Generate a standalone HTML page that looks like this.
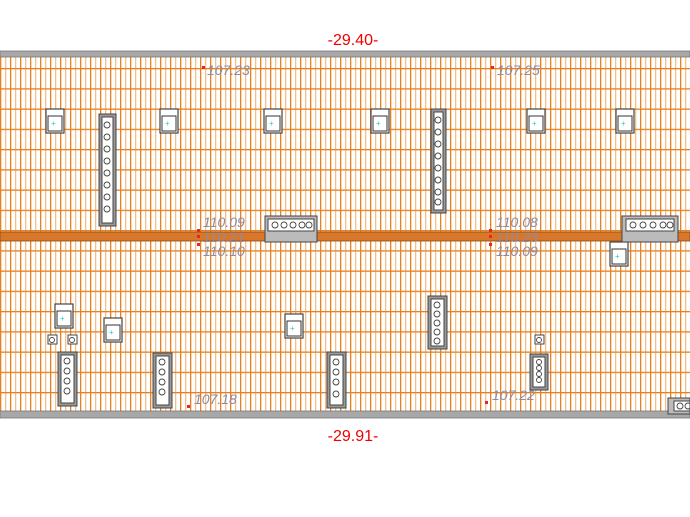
<!DOCTYPE html>
<html><head><meta charset="utf-8"><style>
html,body{margin:0;padding:0;background:#fff;width:690px;height:517px;overflow:hidden}
svg{display:block}
text{font-family:"Liberation Sans",sans-serif}
.el{fill:#8c8ca8;font-size:14px;font-style:italic}
</style></head><body>
<svg width="690" height="517" viewBox="0 0 690 517" xmlns="http://www.w3.org/2000/svg">
<defs>
<pattern id="v" x="0" y="0" width="10" height="10" patternUnits="userSpaceOnUse">
<rect x="0" y="0" width="1.3" height="10" fill="#e8801e"/>
<rect x="5" y="0" width="1.3" height="10" fill="#f3bf8c"/>
</pattern>
<pattern id="h" x="0" y="68" width="10" height="20.25" patternUnits="userSpaceOnUse">
<rect x="0" y="0" width="10" height="1.3" fill="#e8801e"/>
</pattern>
<g id="sky"><rect x="0" y="0" width="18" height="24" fill="#fff" stroke="#444" stroke-width="1.2"/><rect x="2" y="7" width="14" height="15" fill="#fff" stroke="#333"/><text x="5" y="17" font-size="8" fill="#2cc">+</text></g>
</defs>
<rect x="0" y="57" width="690" height="354" fill="#fff"/>
<rect x="0" y="57" width="690" height="354" fill="url(#v)"/>
<rect x="0" y="57" width="690" height="354" fill="url(#h)"/>
<rect x="0" y="51" width="690" height="6" fill="#a8a8a8" stroke="#777" stroke-width="0.8"/>
<rect x="0" y="411" width="690" height="7" fill="#a8a8a8" stroke="#777" stroke-width="0.8"/>
<rect x="0" y="232" width="690" height="9" fill="#d8772a" stroke="#8a4a10" stroke-width="0.8"/>
<text x="353" y="45" fill="#e00" font-size="16" text-anchor="middle">-29.40-</text>
<text x="353" y="441" fill="#e00" font-size="16" text-anchor="middle">-29.91-</text>
<text class="el" x="207" y="75">107.23</text><rect x="202" y="66" width="3" height="3" fill="#e22"/>
<text class="el" x="497" y="75">107.25</text><rect x="491" y="66" width="3" height="3" fill="#e22"/>
<text class="el" x="203" y="227">110.09</text><text class="el" x="203" y="242">110.21</text><text class="el" x="203" y="256">110.10</text>
<rect x="197" y="229" width="3" height="3" fill="#e22"/><rect x="197" y="235" width="3" height="3" fill="#e22"/><rect x="197" y="243" width="3" height="3" fill="#e22"/>
<text class="el" x="496" y="227">110.08</text><text class="el" x="496" y="242">110.23</text><text class="el" x="496" y="256">110.09</text>
<rect x="489" y="229" width="3" height="3" fill="#e22"/><rect x="489" y="235" width="3" height="3" fill="#e22"/><rect x="489" y="243" width="3" height="3" fill="#e22"/>
<text class="el" x="194" y="404">107.18</text><rect x="187" y="405" width="3" height="3" fill="#e22"/>
<text class="el" x="492" y="400">107.22</text><rect x="485" y="401" width="3" height="3" fill="#e22"/>
<use href="#sky" x="46" y="109"/><use href="#sky" x="160" y="109"/><use href="#sky" x="264" y="109"/><use href="#sky" x="371" y="109"/><use href="#sky" x="527" y="109"/><use href="#sky" x="616" y="109"/>
<use href="#sky" x="610" y="242"/><use href="#sky" x="55" y="304"/><use href="#sky" x="104" y="318"/><use href="#sky" x="285" y="314"/>
<!-- vertical units -->
<g fill="#fff" stroke="#444">
<rect x="99" y="114" width="17" height="112" fill="#999"/><rect x="102" y="117" width="11" height="106"/>
<rect x="431" y="109" width="15" height="104" fill="#999"/><rect x="434" y="112" width="9" height="98"/>
<rect x="58" y="352" width="19" height="54" fill="#999"/><rect x="61" y="355" width="13" height="48"/>
<rect x="153" y="353" width="19" height="55" fill="#999"/><rect x="156" y="356" width="13" height="49"/>
<rect x="327" y="352" width="19" height="56" fill="#999"/><rect x="330" y="355" width="13" height="50"/>
<rect x="428" y="296" width="19" height="53" fill="#999"/><rect x="431" y="299" width="13" height="47"/>
<rect x="530" y="354" width="18" height="36" fill="#999"/><rect x="533" y="357" width="12" height="30"/>
<rect x="535" y="335" width="9" height="9"/><rect x="48" y="335" width="9" height="9"/><rect x="68" y="335" width="9" height="9"/>
<rect x="265" y="216" width="52" height="26" fill="#bbb"/><rect x="268" y="219" width="46" height="12"/>
<rect x="622" y="216" width="56" height="26" fill="#bbb"/><rect x="626" y="219" width="48" height="12"/>
<rect x="668" y="398" width="22" height="16" fill="#bbb"/><rect x="674" y="401" width="16" height="10"/>
</g>
<g fill="none" stroke="#444" stroke-width="0.9">
<circle cx="107" cy="125" r="3"/><circle cx="107" cy="137" r="3"/><circle cx="107" cy="149" r="3"/><circle cx="107" cy="161" r="3"/><circle cx="107" cy="173" r="3"/><circle cx="107" cy="185" r="3"/><circle cx="107" cy="197" r="3"/><circle cx="107" cy="209" r="3"/>
<circle cx="438" cy="120" r="3"/><circle cx="438" cy="132" r="3"/><circle cx="438" cy="144" r="3"/><circle cx="438" cy="156" r="3"/><circle cx="438" cy="168" r="3"/><circle cx="438" cy="180" r="3"/><circle cx="438" cy="192" r="3"/><circle cx="438" cy="202" r="3"/>
<circle cx="67" cy="361" r="3"/><circle cx="67" cy="371" r="3"/><circle cx="67" cy="381" r="3"/><circle cx="67" cy="391" r="3"/>
<circle cx="162" cy="362" r="3"/><circle cx="162" cy="372" r="3"/><circle cx="162" cy="382" r="3"/><circle cx="162" cy="392" r="3"/>
<circle cx="336" cy="362" r="3"/><circle cx="336" cy="372" r="3"/><circle cx="336" cy="382" r="3"/><circle cx="336" cy="394" r="3"/>
<circle cx="437" cy="305" r="3"/><circle cx="437" cy="314" r="3"/><circle cx="437" cy="323" r="3"/><circle cx="437" cy="332" r="3"/><circle cx="437" cy="341" r="3"/>
<circle cx="539" cy="362" r="2.5"/><circle cx="539" cy="368" r="2.5"/><circle cx="539" cy="374" r="2.5"/><circle cx="539" cy="380" r="2.5"/>
<circle cx="539" cy="340" r="2.5"/><circle cx="52" cy="340" r="2.5"/><circle cx="72" cy="340" r="2.5"/>
<circle cx="275" cy="225" r="3"/><circle cx="284" cy="225" r="3"/><circle cx="293" cy="225" r="3"/><circle cx="302" cy="225" r="3"/><circle cx="309" cy="225" r="3"/>
<circle cx="633" cy="225" r="3"/><circle cx="643" cy="225" r="3"/><circle cx="653" cy="225" r="3"/><circle cx="663" cy="225" r="3"/><circle cx="670" cy="225" r="3"/>
<circle cx="680" cy="406" r="3"/><circle cx="688" cy="406" r="3"/>
</g>
</svg>
</body></html>
